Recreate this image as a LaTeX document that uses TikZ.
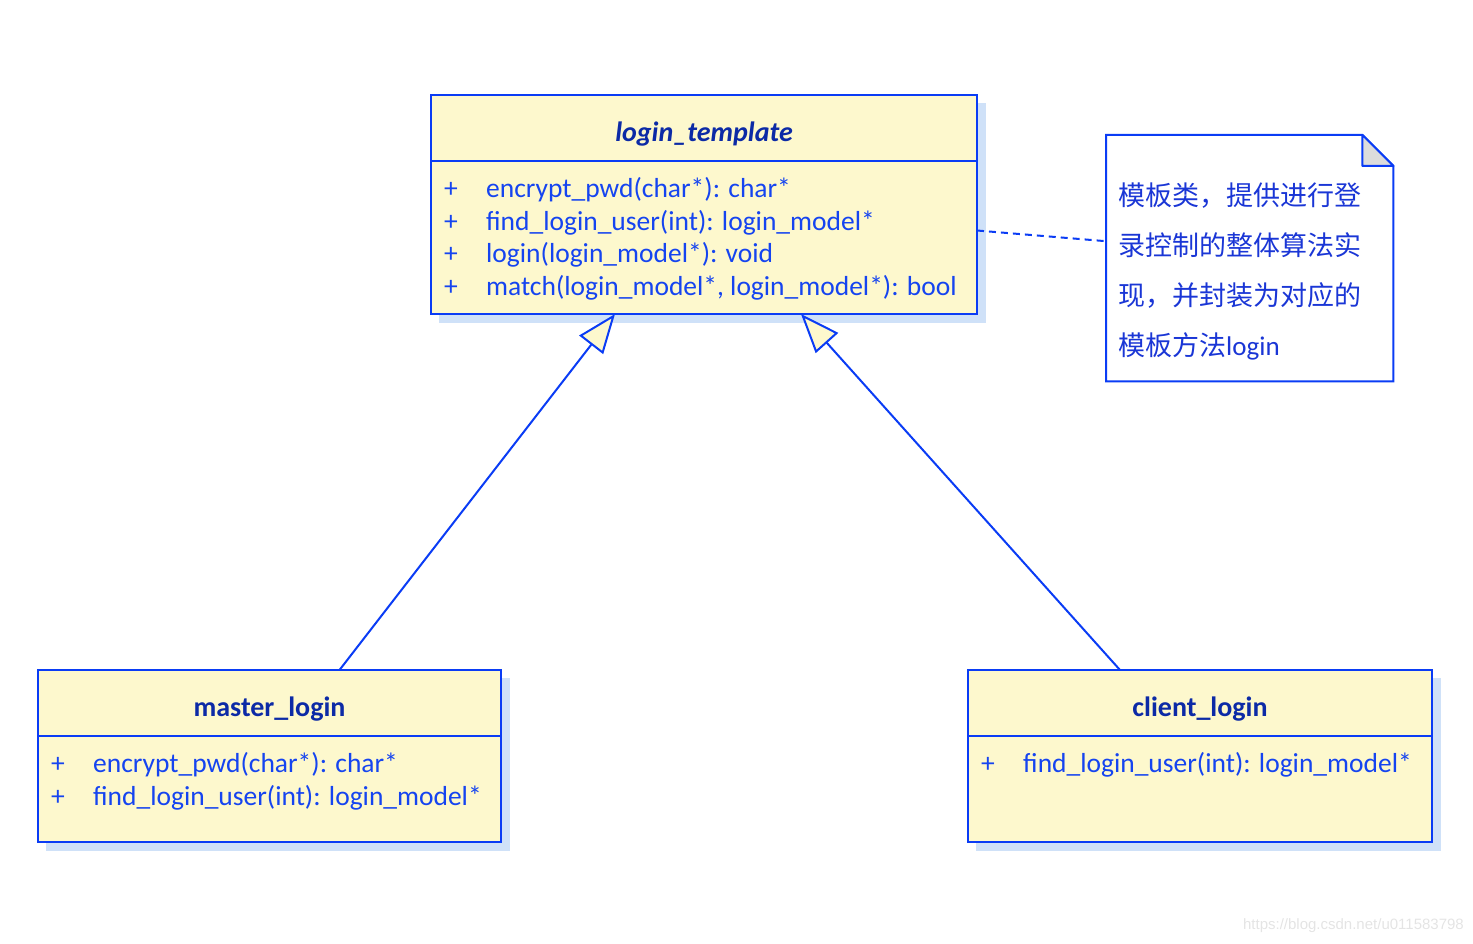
\documentclass[tikz,border=0pt]{standalone}
\usepackage{fontspec}
\setmainfont{Carlito}
\newfontfamily\cjkfont{Noto Sans CJK SC}
\newfontfamily\markfont{Liberation Sans}
\usepackage{tikz}
\usetikzlibrary{arrows.meta,positioning,calc,backgrounds}
\definecolor{umlline}{HTML}{0A3CF5}
\definecolor{umlfill}{HTML}{FDF8CD}
\definecolor{umltitle}{HTML}{0C2AA6}
\definecolor{umltext}{HTML}{1544F0}
\definecolor{notetext}{HTML}{1A36D6}
\definecolor{umlshadow}{HTML}{CFE1F8}
\definecolor{notefold}{HTML}{DCDCDC}
\definecolor{markgray}{HTML}{E4E4E4}
\newcommand\umlop[1]{\makebox[42pt][l]{+}#1}

\begin{document}
\begin{tikzpicture}[x=1pt,y=-1pt,
  classhead/.style={draw=umlline,fill=umlfill,line width=2pt,inner sep=0pt,outer sep=0pt,anchor=north west,
    minimum height=66pt,text height=27pt,text depth=0pt,text=umltitle,font=\fontsize{28}{32}\selectfont\bfseries},
  classbody/.style={draw=umlline,fill=umlfill,line width=2pt,inner sep=0pt,outer sep=0pt,anchor=north west},
  members/.style={anchor=north west,inner sep=0pt,align=left,text=umltext,font=\fontsize{27.5}{32.7}\selectfont},
  inherit/.style={-{Triangle[length=39pt,width=30pt,fill=umlfill]},draw=umlline,line width=2pt},
  notelink/.style={draw=umlline,line width=2pt,dash pattern=on 7pt off 5pt}
]
\useasboundingbox (0,0) rectangle (1473,944);
\node[classhead,minimum width=546pt,font=\fontsize{28}{32}\selectfont\bfseries\itshape] (tplhead) at (431,95) {login\_template};
\node[classbody,minimum width=546pt,minimum height=153pt] (tplbody) at (tplhead.south west) {};
\node[members] (tplops) at ([xshift=13pt,yshift=-16pt]tplbody.north west)
  {\umlop{encrypt\_pwd(char*): char*}\\\umlop{find\_login\_user(int): login\_model*}\\
   \umlop{login(login\_model*): void}\\\umlop{match(login\_model*, login\_model*): bool}};
\node[classhead,minimum width=463pt] (masterhead) at (38,670) {master\_login};
\node[classbody,minimum width=463pt,minimum height=106pt] (masterbody) at (masterhead.south west) {};
\node[members] (masterops) at ([xshift=13pt,yshift=-16pt]masterbody.north west)
  {\umlop{encrypt\_pwd(char*): char*}\\\umlop{find\_login\_user(int): login\_model*}};
\node[classhead,minimum width=464pt] (clienthead) at (968,670) {client\_login};
\node[classbody,minimum width=464pt,minimum height=106pt] (clientbody) at (clienthead.south west) {};
\node[members] (clientops) at ([xshift=13pt,yshift=-16pt]clientbody.north west)
  {\umlop{find\_login\_user(int): login\_model*}};
\node[anchor=north west,minimum width=287pt,minimum height=246pt,inner sep=0pt] (note) at (1106,135) {};
\begin{scope}[on background layer]
  \foreach \h/\b in {tplhead/tplbody,masterhead/masterbody,clienthead/clientbody}
    \fill[umlshadow] ([xshift=8pt,yshift=-8pt]\h.north west) rectangle ([xshift=9pt,yshift=-9pt]\b.south east);
  \fill[umlshadow,shift={(8,8)}] (note.north west) -- ([xshift=-31pt]note.north east)
    -- ([yshift=-31pt]note.north east) -- (note.south east) -- (note.south west) -- cycle;
\end{scope}
\draw[umlline,line width=2pt,fill=white] (note.north west) -- ([xshift=-31pt]note.north east)
  -- ([yshift=-31pt]note.north east) -- (note.south east) -- (note.south west) -- cycle;
\draw[umlline,line width=2pt,fill=notefold,line join=round] ([xshift=-31pt]note.north east)
  -- ([xshift=-31pt,yshift=-31pt]note.north east) -- ([yshift=-31pt]note.north east) -- cycle;
\node[anchor=north west,inner sep=0pt,align=left,text=notetext,font=\fontsize{27}{50}\selectfont\cjkfont] (notetext)
  at ([xshift=12pt,yshift=-48pt]note.north west)
  {模板类，提供进行登\\录控制的整体算法实\\现，并封装为对应的\\模板方法{\rmfamily login}};
\draw[notelink] ([yshift=7pt]tplbody.east) -- ([yshift=17pt]note.west);
\draw[inherit] ([xshift=70pt]masterhead.north) -- ([xshift=-89pt]tplbody.south);
\draw[inherit] ([xshift=-80pt]clienthead.north) -- ([xshift=97pt]tplbody.south);
\node[anchor=east,inner sep=0pt,text=markgray,font=\markfont\fontsize{15}{18}\selectfont] (mark)
  at (1464,926) {https://blog.csdn.net/u011583798};
\end{tikzpicture}
\end{document}
